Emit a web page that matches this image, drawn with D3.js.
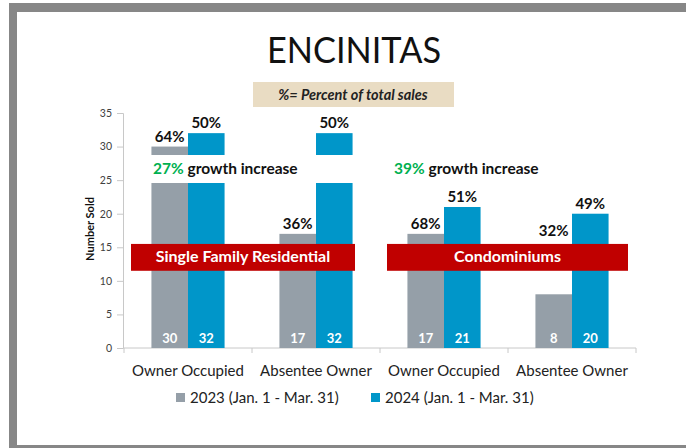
<!DOCTYPE html>
<html lang="en">
<head>
<meta charset="utf-8">
<title>Encinitas</title>
<script src="https://cdn.jsdelivr.net/npm/d3@7"></script>
<style>
  body{ margin:0; background:#fff; }
  svg{ display:block; font-family:Lato, "Open Sans", sans-serif; }
</style>
</head>
<body>
<div id="chart"></div>
<script>
  // data
  var categories = ["Owner Occupied","Absentee Owner","Owner Occupied","Absentee Owner"]
  var seriesNames = ["2023 (Jan. 1 - Mar. 31)","2024 (Jan. 1 - Mar. 31)"]
  var sold2023 = [30,17,17,8]
  var sold2024 = [32,32,21,20]
  var pct2023 = ["64%","36%","68%","32%"]
  var pct2024 = ["50%","50%","51%","49%"]
  // the 32% label floats above the short bar in the original
  var pct2023At = [30,17,17,16]
  var groups = ["Single Family Residential","Condominiums"]
  var growth = ["27%","39%"]
  var yTicks = [0,5,10,15,20,25,30,35]

  var colors = ["#959fa8","#0096c9"]
  var W = 686, H = 448

  var svg = d3.select("#chart").append("svg").attr("width",W).attr("height",H)

  // frame
  svg.append("rect").attr("x",9).attr("y",3).attr("width",W-9).attr("height",9).attr("fill","#878787")
  svg.append("rect").attr("x",9).attr("y",3).attr("width",8).attr("height",H-3).attr("fill","#878787")
  svg.append("rect").attr("x",9).attr("y",445).attr("width",W-9).attr("height",3).attr("fill","#878787")

  // title + note box
  svg.append("text").attr("x",354).attr("y",63).attr("text-anchor","middle")
    .attr("font-size",36).attr("fill","#111").attr("textLength",174).attr("lengthAdjust","spacingAndGlyphs")
    .text("ENCINITAS")
  svg.append("rect").attr("x",253).attr("y",82).attr("width",201).attr("height",25).attr("fill","#e9dcc3")
  svg.append("text").attr("x",353).attr("y",99.5).attr("text-anchor","middle")
    .attr("font-size",14.5).attr("font-weight","bold").attr("font-style","italic").attr("fill","#222")
    .text("%= Percent of total sales")

  var x0 = d3.scaleBand().domain(d3.range(categories.length)).range([124,636])
  var x1 = d3.scaleBand().domain([0,1]).range([0,x0.bandwidth()]).paddingOuter(0.75)
  var y = d3.scaleLinear().domain([0,35]).range([348,113])

  // y axis
  var yAxis = svg.append("g").attr("transform","translate(123,0)")
    .call(d3.axisLeft(y).tickValues(yTicks).tickSize(6).tickPadding(5))
  yAxis.select(".domain").attr("stroke","#c8c8c8")
  yAxis.selectAll(".tick line").attr("stroke","#c8c8c8")
  yAxis.selectAll(".tick text").attr("font-size",10.5).attr("fill","#404040").attr("font-family","Lato, sans-serif")

  svg.append("text").attr("transform","translate(94,229) rotate(-90)").attr("text-anchor","middle")
    .attr("font-size",11).attr("font-weight","bold").attr("fill","#111").text("Number Sold")

  // x axis
  var xAxisG = svg.append("g").attr("transform","translate(0,348)")
  xAxisG.append("line").attr("x1",x0.range()[0]).attr("x2",x0.range()[1]).attr("stroke","#c8c8c8")
  xAxisG.selectAll(".sep").data(d3.range(categories.length+1)).enter().append("line")
    .attr("x1",function(i){ return x0.range()[0]+i*x0.step() })
    .attr("x2",function(i){ return x0.range()[0]+i*x0.step() })
    .attr("y1",0).attr("y2",5).attr("stroke","#c8c8c8")
  xAxisG.selectAll(".cat").data(categories).enter().append("text")
    .attr("x",function(d,i){ return x0(i)+x0.bandwidth()/2 })
    .attr("y",28).attr("text-anchor","middle").attr("font-size",15).attr("fill","#222")
    .text(function(d){ return d })

  // bars
  var rows = categories.map(function(c,i){
    return [{cat:i,s:0,v:sold2023[i],pct:pct2023[i],at:pct2023At[i]},
            {cat:i,s:1,v:sold2024[i],pct:pct2024[i],at:sold2024[i]}]
  })
  var bars = d3.merge(rows)

  svg.selectAll(".bar").data(bars).enter().append("rect")
    .attr("x",function(d){ return x0(d.cat)+x1(d.s) })
    .attr("width",x1.bandwidth())
    .attr("y",function(d){ return y(d.v) })
    .attr("height",function(d){ return y(0)-y(d.v) })
    .attr("fill",function(d){ return colors[d.s] })

  // white box behind growth note (cuts bars in the first half)
  svg.append("rect").attr("x",140).attr("y",155).attr("width",222).attr("height",28).attr("fill","#fff")

  svg.selectAll(".val").data(bars).enter().append("text")
    .attr("x",function(d){ return x0(d.cat)+x1(d.s)+x1.bandwidth()/2 })
    .attr("y",343).attr("text-anchor","middle").attr("font-size",13).attr("font-weight","bold")
    .attr("fill","#fff").text(function(d){ return d.v })

  svg.selectAll(".pct").data(bars).enter().append("text")
    .attr("x",function(d){ return x0(d.cat)+x1(d.s)+x1.bandwidth()/2 })
    .attr("y",function(d){ return y(d.at)-5 })
    .attr("text-anchor","middle").attr("font-size",15).attr("font-weight","bold").attr("fill","#111")
    .text(function(d){ return d.pct })

  // growth notes
  groups.forEach(function(g,k){
    var t = svg.append("text").attr("x",x0(k*2)+29+k*(-15)).attr("y",174)
      .attr("font-size",15.5).attr("font-weight","bold").attr("fill","#111")
    t.append("tspan").attr("fill","#00b050").text(growth[k])
    t.append("tspan").text(" growth increase")
  })

  // red category banners
  var bannerEnds = [[x0(0)+7, x0(2)-25],[x0(2)+7, x0.range()[1]-8]]
  groups.forEach(function(g,k){
    var x = bannerEnds[k][0], w = bannerEnds[k][1]-bannerEnds[k][0]
    svg.append("rect").attr("x",x).attr("y",y(15.5)).attr("width",w).attr("height",y(11.5)-y(15.5)).attr("fill","#c00000")
    svg.append("text").attr("x",x+w/2).attr("y",y(13.5)+5).attr("text-anchor","middle")
      .attr("font-size",16).attr("font-weight","bold").attr("fill","#fff").text(g)
  })

  // legend
  var legX = [176,371]
  seriesNames.forEach(function(s,i){
    svg.append("rect").attr("x",legX[i]).attr("y",393).attr("width",9).attr("height",9).attr("fill",colors[i])
    svg.append("text").attr("x",legX[i]+14).attr("y",403).attr("font-size",15).attr("fill","#222").text(s)
  })
</script>
</body>
</html>
